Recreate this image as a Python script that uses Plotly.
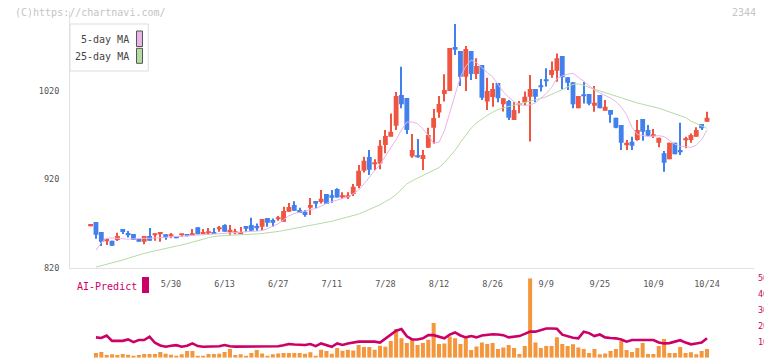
import plotly.graph_objects as go

# ---------------- data ----------------
# candle index -1 .. 114 (trading days, index 14 = 5/30, index 114 = 10/24)
candle_idx = list(range(-1, 115))
opens = [868.0,
    872.0, 860.7, 851.2, 850.8, 851.6, 864.1, 859.5, 858.4, 852.8, 849.8,
    856.2, 857.3, 858.8, 858.0, 856.2, 856.2, 857.3, 858.4, 857.3, 866.0,
    858.4, 859.5, 860.7, 864.0, 868.6, 861.4, 859.2, 858.8, 867.5, 868.6,
    866.0, 866.7, 876.5, 874.2, 875.6, 872.4, 883.6, 891.2, 885.5, 883.6,
    888.2, 895.7, 894.6, 903.6, 902.1, 909.3, 900.5, 900.5, 903.6, 912.6,
    930.0, 945.4, 937.5, 938.2, 959.0, 968.4, 980.8, 1015.5, 1012.1, 945.9,
    946.5, 943.2, 956.0, 978.6, 995.6, 1016.6, 1020.0, 1069.7, 1065.2, 1036.2,
    1065.2, 1039.2, 1049.4, 1008.0, 1013.3, 1029.1, 1005.0, 1008.7, 987.3, 1003.8,
    1007.2, 1013.6, 1022.3, 1025.5, 1032.2, 1038.1, 1043.0, 1059.5, 1035.4, 1029.8,
    1000.4, 1015.0, 1016.6, 1003.4, 1015.4, 997.8, 998.5, 989.9, 981.6, 959.7,
    962.7, 964.6, 988.4, 975.9, 969.0, 961.6, 949.6, 942.8, 961.6, 952.0,
    964.3, 964.6, 968.4, 982.7, 985.3]
highs = [869.0,
    872.0, 860.7, 852.5, 850.8, 859.9, 864.1, 861.8, 858.4, 852.8, 856.2,
    865.2, 859.2, 859.8, 858.0, 859.5, 856.2, 858.0, 858.4, 864.1, 866.0,
    864.1, 865.2, 865.2, 867.5, 869.3, 868.6, 864.4, 866.3, 867.5, 876.8,
    870.4, 875.4, 876.5, 876.0, 878.8, 889.3, 893.4, 895.3, 888.2, 885.5,
    899.1, 895.7, 908.1, 903.6, 908.1, 910.0, 905.5, 905.5, 914.9, 936.4,
    945.8, 953.3, 942.8, 964.6, 975.9, 994.7, 1019.0, 1047.5, 1012.1, 971.5,
    965.8, 953.4, 978.6, 999.7, 1014.4, 1038.9, 1068.6, 1095.7, 1065.2, 1070.9,
    1065.2, 1056.9, 1049.4, 1035.1, 1029.1, 1029.1, 1011.7, 1009.9, 1007.2, 1008.7,
    1019.3, 1038.1, 1022.3, 1033.6, 1045.6, 1053.2, 1062.5, 1059.5, 1035.4, 1029.8,
    1014.3, 1030.1, 1016.6, 1025.6, 1015.4, 1009.8, 998.5, 989.9, 981.6, 964.6,
    968.4, 987.2, 988.4, 981.6, 977.1, 967.3, 952.2, 961.6, 961.6, 984.2,
    968.4, 972.1, 978.9, 982.7, 996.6]
lows = [867.5,
    853.0, 844.9, 846.0, 845.2, 850.5, 858.5, 854.6, 852.0, 849.8, 846.7,
    850.9, 850.9, 849.8, 852.0, 853.5, 854.3, 855.2, 856.5, 857.3, 858.0,
    858.0, 857.3, 858.4, 861.0, 861.0, 857.7, 858.0, 858.8, 861.0, 862.0,
    861.8, 862.9, 866.7, 866.7, 873.4, 872.4, 883.6, 884.8, 882.1, 878.0,
    879.9, 887.4, 893.0, 892.3, 893.8, 899.8, 898.0, 898.0, 901.4, 910.0,
    928.0, 925.0, 930.5, 931.5, 949.6, 969.0, 976.0, 1000.4, 971.5, 944.7,
    944.5, 930.8, 956.0, 960.5, 989.9, 1008.0, 1020.0, 1060.7, 1025.7, 1020.0,
    1032.5, 1033.6, 1009.9, 998.6, 1002.3, 1007.2, 996.7, 987.3, 987.3, 994.8,
    1004.0, 962.8, 1007.2, 1019.3, 1025.0, 1035.1, 1030.5, 1021.9, 1021.1, 1000.4,
    1000.4, 1006.0, 1004.0, 996.6, 1000.4, 997.8, 984.2, 977.8, 953.3, 953.3,
    953.3, 963.9, 963.9, 969.5, 967.0, 956.3, 928.8, 942.8, 948.4, 947.7,
    955.2, 961.6, 968.4, 975.9, 985.3]
closes = [868.5,
    857.6, 849.8, 851.8, 845.2, 856.2, 860.7, 857.3, 852.0, 849.8, 856.2,
    850.9, 859.2, 859.2, 854.6, 856.8, 854.3, 857.7, 856.5, 859.2, 858.0,
    860.7, 860.0, 858.4, 864.4, 861.0, 861.8, 859.5, 860.7, 864.4, 862.2,
    865.6, 875.4, 871.2, 871.2, 876.1, 884.4, 888.9, 884.8, 882.1, 879.9,
    891.2, 892.7, 898.3, 892.3, 899.5, 899.8, 901.0, 901.0, 911.9, 930.0,
    941.3, 931.1, 938.6, 958.2, 969.1, 974.0, 1014.3, 1005.0, 976.0, 953.4,
    945.5, 947.7, 970.3, 989.5, 1005.3, 1021.2, 1068.6, 1066.7, 1036.2, 1067.5,
    1039.2, 1048.3, 1012.5, 1020.0, 1022.3, 1011.7, 1011.7, 989.9, 998.6, 1004.2,
    1013.6, 1022.3, 1013.6, 1024.5, 1031.2, 1043.8, 1056.9, 1035.4, 1029.4, 1004.9,
    1014.3, 1014.5, 1005.7, 1006.8, 1000.4, 1002.3, 993.2, 978.6, 961.6, 960.1,
    958.2, 975.9, 974.0, 969.5, 969.5, 967.3, 939.0, 961.6, 948.4, 951.4,
    964.6, 970.3, 975.9, 977.8, 989.9]

# indicator series, index 0 .. 114
line_idx = list(range(0, 115))
ma5 = [840.0, 849.0, 853.5, 854.0, 853.5, 853.0, 852.5, 853.0, 853.5, 853.5,
    853.5, 854.0, 854.3, 854.7, 855.2, 855.7, 856.3, 856.7, 857.0, 857.2,
    857.5, 857.9, 858.3, 858.6, 858.8, 859.0, 859.4, 860.2, 861.0, 861.4,
    861.8, 862.2, 864.5, 867.0, 870.0, 874.5, 879.0, 881.5, 883.0, 884.3,
    885.8, 887.3, 890.0, 893.0, 895.0, 897.0, 898.5, 900.3, 904.0, 908.0,
    915.0, 923.0, 930.0, 937.0, 946.0, 955.0, 965.0, 976.0, 985.0, 985.0,
    983.0, 977.0, 970.0, 961.0, 962.0, 975.0, 995.0, 1015.0, 1036.0, 1048.0,
    1055.0, 1052.0, 1046.0, 1041.0, 1036.0, 1027.0, 1019.0, 1013.0, 1008.0, 1005.0,
    1003.5, 1004.5, 1006.5, 1012.0, 1017.0, 1024.0, 1034.0, 1037.0, 1039.0, 1040.0,
    1036.0, 1031.0, 1026.0, 1021.0, 1018.0, 1015.0, 1012.0, 1008.0, 1002.0, 993.0,
    979.0, 971.0, 969.5, 968.5, 969.0, 969.5, 968.5, 964.0, 960.0, 957.5,
    956.5, 956.3, 959.0, 965.0, 975.9]
ma25 = [821.0, 822.5, 824.0, 825.5, 827.0, 829.0, 831.0, 833.0, 835.0, 836.5,
    838.0, 839.5, 840.8, 842.0, 843.5, 844.8, 846.0, 847.5, 849.0, 850.5,
    852.5, 854.5, 855.8, 856.3, 856.6, 856.8, 857.0, 857.2, 857.5, 858.0,
    858.5, 859.0, 859.6, 860.3, 861.3, 862.4, 863.5, 864.6, 865.7, 866.7,
    867.7, 868.8, 869.9, 871.1, 872.8, 874.5, 876.2, 877.7, 879.3, 880.9,
    883.5, 886.0, 888.5, 891.5, 895.0, 898.5, 903.0, 909.0, 915.0, 918.5,
    921.5, 924.5, 927.5, 930.5, 933.5, 939.0, 946.0, 953.0, 962.0, 970.0,
    978.0, 984.0, 988.5, 992.5, 996.0, 999.0, 1001.0, 1002.5, 1004.0, 1005.3,
    1006.5, 1008.0, 1009.5, 1011.5, 1013.5, 1016.0, 1018.5, 1021.5, 1024.5, 1027.5,
    1028.0, 1026.5, 1024.0, 1022.0, 1020.0, 1018.0, 1016.5, 1014.5, 1012.5, 1010.5,
    1008.0, 1006.5, 1005.0, 1003.5, 1002.5, 1000.5, 998.5, 996.5, 994.5, 992.5,
    990.0, 986.0, 983.0, 980.5, 977.8]
volume = [2.9, 3.6, 1.7, 2.1, 1.7, 2.3, 1.9, 1.3, 1.7, 2.3,
    2.3, 2.3, 3.6, 2.5, 1.9, 1.3, 2.1, 4.2, 4.2, 1.3,
    1.3, 2.3, 2.3, 2.5, 3.6, 5.5, 1.7, 2.1, 1.3, 2.9,
    4.8, 2.7, 1.3, 2.1, 2.7, 2.9, 2.9, 2.9, 2.9, 2.5,
    3.4, 1.3, 5.0, 4.2, 2.5, 6.1, 4.4, 5.0, 4.6, 8.0,
    6.7, 6.7, 5.0, 7.5, 6.9, 10.5, 18.0, 12.2, 9.2, 11.7,
    8.0, 9.2, 11.3, 21.8, 8.6, 9.0, 13.4, 12.2, 8.6, 12.2,
    4.8, 7.1, 9.6, 8.6, 9.2, 5.5, 6.5, 8.0, 6.1, 2.3,
    7.3, 50.0, 9.6, 6.1, 7.3, 7.3, 12.8, 8.6, 7.3, 8.4,
    6.5, 5.5, 2.9, 5.5, 2.1, 2.7, 4.2, 5.5, 10.5, 4.8,
    3.6, 6.1, 9.2, 2.3, 2.3, 7.3, 11.7, 2.9, 2.9, 6.7,
    2.9, 3.4, 2.1, 4.2, 5.5]
ai_predict = [12.8, 12.4, 14.0, 10.6, 10.6, 10.6, 11.5, 9.8, 11.1, 11.1,
    13.2, 9.4, 7.7, 6.9, 7.5, 7.9, 6.9, 7.5, 9.0, 7.3,
    6.9, 7.0, 7.0, 7.2, 8.0, 7.2, 7.0, 7.0, 7.0, 7.0,
    7.0, 7.0, 7.0, 7.0, 7.2, 7.8, 8.6, 8.3, 8.0, 8.0,
    8.6, 7.3, 9.0, 8.0, 6.9, 9.0, 8.0, 9.0, 9.5, 10.1,
    10.1, 10.1, 10.1, 9.5, 12.0, 14.5, 17.0, 18.0, 13.5, 11.5,
    11.5, 12.2, 14.2, 14.2, 13.4, 12.2, 14.5, 15.9, 14.0, 12.8,
    13.6, 12.8, 14.0, 14.5, 14.8, 14.6, 14.2, 12.8, 13.2, 13.6,
    15.0, 16.5, 16.4, 17.2, 18.4, 18.4, 18.2, 14.5, 13.4, 12.6,
    12.2, 16.4, 15.5, 13.6, 14.6, 12.8, 12.4, 12.2, 11.5, 10.1,
    11.1, 11.1, 11.1, 11.1, 11.1, 9.6, 9.0, 9.2, 10.0, 11.0,
    9.5, 8.4, 9.0, 9.5, 12.2]

tick_idx = [14, 24, 34, 44, 54, 64, 74, 84, 94, 104, 114]
tick_labels = ["5/30", "6/13", "6/27", "7/11", "7/28", "8/12", "8/26", "9/9", "9/25", "10/9", "10/24"]
price_ticks = [820, 920, 1020]
ai_ticks = [0, 10, 20, 30, 40, 50]

# ---------------- styling ----------------
# the page body adds an 8px margin, so the figure is 8px smaller each way
OFF = 8
SCREEN_W, SCREEN_H = 772, 361
W, H = SCREEN_W - OFF, SCREEN_H - OFF
L, R = 70, 754            # plot-area edges in screen pixels
UP, DOWN = "#ef5541", "#4280ee"
MONO = "DejaVu Sans Mono"

def px(x):
    return (x - L) / (R - L)

def py(y):
    return (SCREEN_H - y) / H

body_base = [min(o, c) for o, c in zip(opens, closes)]
body_h = [max(abs(c - o), 1.8) for o, c in zip(opens, closes)]
colors = [UP if c >= o else DOWN for o, c in zip(opens, closes)]
wick_h = [h - l for h, l in zip(highs, lows)]

fig = go.Figure()
fig.add_trace(go.Scatter(x=line_idx, y=ma25, mode="lines", line=dict(color="#b4dba4", width=1),
                         xaxis="x", yaxis="y", hoverinfo="skip"))
fig.add_trace(go.Scatter(x=line_idx, y=ma5, mode="lines", line=dict(color="#e8b4ea", width=1),
                         xaxis="x", yaxis="y", hoverinfo="skip"))
fig.add_trace(go.Bar(x=candle_idx, y=wick_h, base=lows, width=0.2, marker=dict(color=colors, line=dict(width=0)),
                     xaxis="x", yaxis="y"))
fig.add_trace(go.Bar(x=candle_idx, y=body_h, base=body_base, width=0.9, marker=dict(color=colors, line=dict(width=0)),
                     xaxis="x", yaxis="y"))
fig.add_trace(go.Bar(x=line_idx, y=volume, width=0.75, marker=dict(color="#f3963c", line=dict(width=0)),
                     xaxis="x2", yaxis="y2"))
fig.add_trace(go.Scatter(x=line_idx, y=ai_predict, mode="lines", line=dict(color="#cc0066", width=2.6),
                         xaxis="x2", yaxis="y2"))

xmin = 14 - (171 - L) / 5.36
xmax = xmin + (R - L) / 5.36

axis_font = dict(family=MONO, size=8.5, color="#555555")
fig.update_layout(
    width=W, height=H,
    margin=dict(l=L - OFF, r=SCREEN_W - R, t=0, b=0, autoexpand=False),
    paper_bgcolor="white", plot_bgcolor="rgba(0,0,0,0)",
    showlegend=False, barmode="overlay",
    xaxis=dict(domain=[0, 1], range=[xmin, xmax], anchor="y", tickvals=tick_idx, ticktext=tick_labels,
               ticks="", showline=True, linecolor="#e2e2e2", linewidth=1, showgrid=False, zeroline=False,
               tickfont=axis_font, ticklabelstandoff=8, automargin=False),
    xaxis2=dict(domain=[0, 1], range=[xmin, xmax], anchor="y2", visible=False, automargin=False),
    xaxis3=dict(domain=[0, 1], range=[0, 11], overlaying="x", anchor="y", side="bottom",
                tickvals=list(range(1, 12)), ticks="outside", ticklen=6, tickcolor="#e2e2e2", tickwidth=1,
                showticklabels=False, showline=False, showgrid=False, zeroline=False, automargin=False),
    yaxis=dict(domain=[py(268), py(11.35)], range=[820, 1110], anchor="x", tickvals=price_ticks,
               ticks="", showline=True, linecolor="#e2e2e2", showgrid=False, zeroline=False,
               tickfont=axis_font, ticklabelstandoff=8, automargin=False),
    yaxis2=dict(domain=[py(357.7), py(278.3)], range=[0, 50], anchor="x2", side="right", tickvals=ai_ticks,
                ticks="", showline=False, showgrid=False, zeroline=False,
                tickfont=dict(family=MONO, size=8.5, color="#cc0066"), ticklabelstandoff=3, automargin=False),
)

# legend box and swatches
shapes = [
    dict(type="rect", xref="paper", yref="paper", x0=px(70), x1=px(148.3), y0=py(71), y1=py(24),
         line=dict(color="#dddddd", width=1), fillcolor="white"),
    dict(type="rect", xref="paper", yref="paper", x0=px(136.5), x1=px(142.5), y0=py(46.5), y1=py(31),
         line=dict(color="#555555", width=1), fillcolor="#e8b4ea"),
    dict(type="rect", xref="paper", yref="paper", x0=px(136.5), x1=px(142.5), y0=py(63.3), y1=py(48.3),
         line=dict(color="#555555", width=1), fillcolor="#b4dba4"),
    dict(type="rect", xref="paper", yref="paper", x0=px(142), x1=px(149), y0=py(293), y1=py(277),
         line=dict(width=0), fillcolor="#cc0066"),
]
fig.update_layout(shapes=shapes)

ann = [
    dict(text="(C)https://chartnavi.com/", x=px(13), y=py(12.5), xanchor="left", yanchor="middle",
         font=dict(family=MONO, size=10, color="#c4c4c4")),
    dict(text="2344", x=px(758), y=py(12.5), xanchor="right", yanchor="middle",
         font=dict(family=MONO, size=10, color="#c4c4c4")),
    dict(text="5-day MA", x=px(130.5), y=py(39), xanchor="right", yanchor="middle",
         font=dict(family=MONO, size=10, color="#444444")),
    dict(text="25-day MA", x=px(130.5), y=py(56.5), xanchor="right", yanchor="middle",
         font=dict(family=MONO, size=10, color="#444444")),
    dict(text="AI-Predict", x=px(74.5), y=py(286), xanchor="left", yanchor="middle",
         font=dict(family=MONO, size=10, color="#cc0066")),
]
for a in ann:
    a.update(xref="paper", yref="paper", showarrow=False)
fig.update_layout(annotations=ann)

fig.write_html("out.html")
